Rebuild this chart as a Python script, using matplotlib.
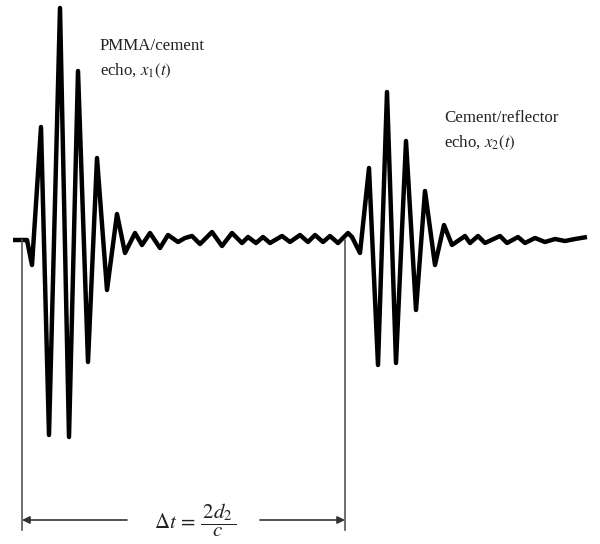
import matplotlib
matplotlib.use('Agg')
import matplotlib.pyplot as plt

plt.rcParams['font.family'] = ['Liberation Serif', 'DejaVu Serif']
plt.rcParams['mathtext.fontset'] = 'stix'

# waveform: time (arb. units) and amplitude (arb. units)
t = [13, 25, 27, 32, 41, 49, 60, 69, 78, 88, 97, 107, 117, 125, 135, 142, 150, 160,
     168, 178, 185, 192, 200, 212, 222, 232, 242, 248, 256, 263, 270, 282, 290, 300,
     308, 315, 323, 330, 338, 348, 352, 360, 369, 378, 387, 396, 406, 416, 425, 435,
     444, 452, 465, 470, 478, 485, 500, 507, 518, 525, 535, 545, 555, 565, 575, 587]
amp = [0, 0, 0, -25, 113, -195, 232, -197, 169, -122, 82, -50, 26, -13, 7, -5, 7, -8,
       5, -2, 2, 4, -4, 8, -6, 7, -3, 3, -3, 3, -3, 4, -2, 5,
       -2, 5, -2, 4, -3, 7, 3, -13, 72, -125, 148, -123, 99, -70, 49, -25,
       15, -5, 4, -3, 4, -3, 4, -3, 3, -3, 2, -2, 1, -1, 1, 3]

# echo onsets and the marker level
t_echo1 = 22
t_echo2 = 345
marker_level = -280
line_bottom = -290

fig = plt.figure(figsize=(6, 5.44), dpi=100)
ax = fig.add_axes([0, 0, 1, 1])
ax.set_xlim(0, 600)
ax.set_ylim(-304, 240)
ax.axis('off')

ax.plot(t, amp, color='black', lw=3.2, solid_joinstyle='round', solid_capstyle='butt')

for te in [t_echo1, t_echo2]:
    ax.plot([te, te], [0, line_bottom], color='#555555', lw=1.2)

ax.annotate('', xy=(t_echo1, marker_level), xytext=(127, marker_level),
            arrowprops=dict(arrowstyle='-|>', color='#333333', lw=1.2,
                            mutation_scale=11, shrinkA=0, shrinkB=0))
ax.annotate('', xy=(t_echo2, marker_level), xytext=(260, marker_level),
            arrowprops=dict(arrowstyle='-|>', color='#333333', lw=1.2,
                            mutation_scale=11, shrinkA=0, shrinkB=0))
ax.text(195, marker_level, r'$\Delta t\,=\,\dfrac{\,2d_2\,}{c}$', fontsize=15,
        ha='center', va='center', color='#222222')

ax.text(100, 202, 'PMMA/cement\necho, $x_1(t)$', fontsize=12.2, ha='left', va='top',
        linespacing=1.6, color='#222222')
ax.text(444, 130, 'Cement/reflector\necho, $x_2(t)$', fontsize=12.2, ha='left', va='top',
        linespacing=1.6, color='#222222')

fig.savefig('out.png', dpi=100)
